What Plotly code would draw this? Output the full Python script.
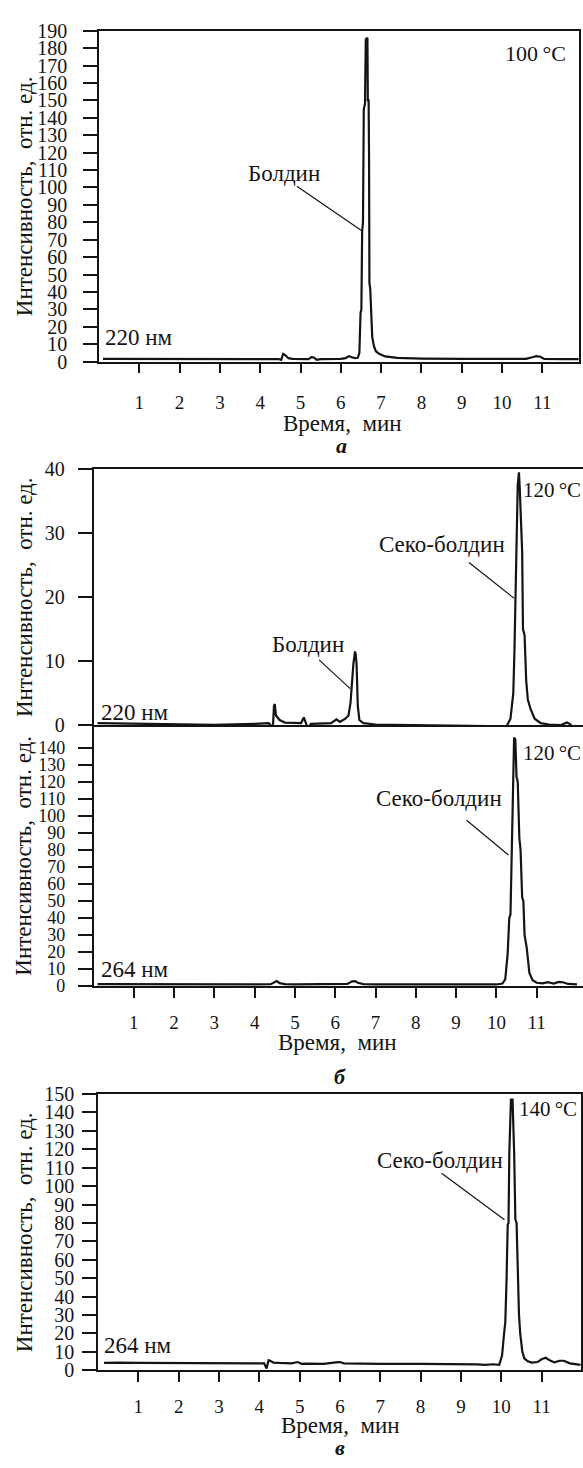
import plotly.graph_objects as go

W, H = 583, 1468

# ---------------- data ----------------
# Panel a: 100 °C, 220 nm
time_a = [0.1, 1.0, 2.0, 3.0, 4.0, 4.45, 4.52, 4.57, 4.62, 4.7, 4.8, 5.0, 5.2, 5.27, 5.33, 5.4, 5.5,
          6.0, 6.12, 6.2, 6.27, 6.35, 6.42, 6.46, 6.49, 6.51, 6.53, 6.55, 6.57, 6.6, 6.62, 6.66, 6.67,
          6.69, 6.7, 6.71, 6.73, 6.75, 6.78, 6.82, 6.87, 6.95, 7.1, 7.4, 8.0, 9.0, 10.0, 10.6, 10.75,
          10.85, 10.95, 11.05, 11.5, 11.9]
int_a = [1.6, 1.6, 1.5, 1.6, 1.5, 1.5, 1.0, 4.5, 3.8, 2.0, 1.6, 1.5, 1.5, 2.6, 2.4, 1.0, 1.5,
         1.6, 2.0, 3.2, 2.8, 2.0, 2.2, 5.0, 28.0, 30.0, 75.0, 80.0, 145.0, 148.0, 185.0, 186.0, 150.0,
         150.0, 120.0, 45.0, 42.0, 25.0, 14.0, 9.0, 6.0, 4.5, 3.0, 2.2, 1.8, 1.6, 1.6, 1.6, 2.5,
         3.2, 2.8, 1.6, 1.5, 1.5]

# Panel б (upper): 120 °C, 220 nm
time_b1 = [0.1, 1.0, 2.0, 3.0, 4.0, 4.35, 4.42, 4.45, 4.48, 4.5, 4.53, 4.56, 4.62, 4.75, 5.0, 5.15,
           5.22, 5.27, 5.32, 5.4, 5.6, 5.9, 6.03, 6.12, 6.25, 6.33, 6.38, 6.42, 6.45, 6.49, 6.51, 6.53,
           6.56, 6.6, 6.7, 7.0, 8.0, 9.0, 10.0, 10.25, 10.35, 10.42, 10.45, 10.48, 10.5, 10.53, 10.56,
           10.58, 10.6, 10.64, 10.66, 10.7, 10.74, 10.78, 10.85, 10.95, 11.1, 11.3, 11.6, 11.75,
           11.82, 11.9, 12.0]
int_b1 = [0.3, 0.2, 0.1, 0.05, 0.2, 0.3, -0.2, -0.8, 3.0, 3.3, 1.5, 1.2, 0.8, 0.4, 0.3, 0.3,
          1.2, 0.2, -0.5, 0.2, 0.2, 0.3, 0.9, 0.5, 1.0, 1.5, 3.5, 8.0, 9.5, 11.5, 11.0, 9.5,
          3.0, 0.8, 0.3, 0.1, 0.0, 0.0, -0.1, -0.2, 1.0, 5.0, 12.0, 19.5, 28.0, 37.5, 39.5,
          37.0, 33.0, 27.0, 15.0, 14.0, 7.0, 4.0, 2.5, 1.0, 0.3, 0.1, 0.0, 0.4,
          0.2, -0.3, -0.5]

# Panel б (lower): 120 °C, 264 nm
time_b2 = [0.1, 1.0, 2.0, 3.0, 4.0, 4.4, 4.5, 4.55, 4.62, 4.75, 5.0, 6.0, 6.3, 6.42, 6.49, 6.56, 6.7,
           7.0, 8.0, 9.0, 10.0, 10.15, 10.22, 10.28, 10.32, 10.35, 10.38, 10.41, 10.44, 10.47, 10.5,
           10.53, 10.57, 10.6, 10.64, 10.67, 10.7, 10.75, 10.82, 10.9, 11.0, 11.15, 11.28, 11.42,
           11.55, 11.65, 11.78, 12.0]
int_b2 = [1.2, 1.1, 1.1, 1.0, 1.1, 1.2, 2.5, 3.0, 1.8, 1.2, 1.1, 1.1, 1.3, 2.8, 3.0, 2.0, 1.2,
          1.0, 1.0, 1.0, 1.0, 1.5, 4.0, 19.0, 40.0, 42.0, 71.0, 110.0, 146.0, 145.0, 123.0,
          120.0, 87.0, 80.0, 52.0, 50.0, 30.0, 23.0, 7.7, 3.5, 2.0, 1.6, 2.4, 1.5,
          2.5, 2.3, 1.3, 1.0]

# Panel в: 140 °C, 264 nm
time_c = [0.15, 0.5, 1.0, 2.0, 3.0, 4.0, 4.12, 4.18, 4.23, 4.28, 4.35, 4.5, 4.8, 4.95, 5.05, 5.15,
          5.3, 5.6, 5.9, 6.0, 6.1, 6.5, 7.0, 8.0, 9.0, 9.4, 9.6, 9.8, 9.95, 10.02, 10.07, 10.1, 10.13,
          10.16, 10.18, 10.2, 10.24, 10.28, 10.32, 10.35, 10.38, 10.41, 10.44, 10.47, 10.52, 10.57,
          10.65, 10.75, 10.9, 11.0, 11.1, 11.2, 11.32, 11.45, 11.55, 11.7, 11.85, 11.97]
int_c = [4.0, 4.2, 4.0, 4.0, 4.0, 4.0, 3.8, 1.0, 5.5, 5.0, 4.2, 4.0, 3.8, 4.5, 3.5, 3.6,
         3.5, 3.5, 4.3, 4.5, 3.8, 3.6, 3.5, 3.5, 3.5, 3.2, 3.0, 3.3, 3.0, 8.0, 20.0, 26.0, 48.0,
         79.0, 80.0, 118.0, 147.0, 147.0, 118.0, 82.0, 80.0, 52.0, 30.0, 20.0, 10.5, 6.5,
         5.0, 4.2, 4.5, 6.0, 6.8, 5.5, 4.3, 5.2, 5.2, 3.8, 3.2, 3.0]

x_ticks = [1, 2, 3, 4, 5, 6, 7, 8, 9, 10, 11]
y_ticks_a = list(range(0, 191, 10))
y_ticks_b1 = [0, 10, 20, 30, 40]
y_ticks_b2 = list(range(0, 141, 10))
y_ticks_c = list(range(0, 151, 10))

y_title = "Интенсивность,\u00a0 отн. ед."
x_title = "Время,\u00a0 мин"
panel_letters = ["а", "б", "в"]

# labels: (text, x, y, axis-suffix, anchor, size)
labels = [
    ("Болдин", 4.59, 108, "", "center", 23),
    ("100\u2009°C", 10.84, 177, "", "center", 22),
    ("220 нм", 1.0, 13.6, "", "center", 23),
    ("Болдин", 5.32, 12.6, "2", "center", 23),
    ("Секо-болдин", 8.66, 28.2, "2", "center", 23),
    ("120\u2009°C", 10.6, 36.8, "2", "left", 21),
    ("220 нм", 1.02, 1.9, "2", "center", 23),
    ("Секо-болдин", 8.57, 110, "3", "center", 23),
    ("120\u2009°C", 10.62, 137, "3", "left", 21),
    ("264 нм", 1.03, 9.8, "3", "center", 23),
    ("Секо-болдин", 8.47, 113.9, "4", "center", 23),
    ("140\u2009°C", 10.4, 141.7, "4", "left", 21),
    ("264 нм", 1.0, 13.4, "4", "center", 23),
]
# leader lines: (x0, y0, x1, y1, axis-suffix)
leaders = [
    (4.91, 100.7, 6.52, 75.2, ""),
    (5.6, 10.2, 6.37, 5.7, "2"),
    (9.32, 25.4, 10.44, 19.8, "2"),
    (9.26, 97.4, 10.3, 77.0, "3"),
    (8.52, 107.0, 10.08, 81.8, "4"),
]

# ---------------- layout helpers (pixel geometry) ----------------
def px_x(p):
    return p / W

def px_y(p):
    return 1 - p / H

FONT = "Liberation Serif, Times New Roman, serif"
BLACK = "#141414"

fig = go.Figure()
line_style = dict(color=BLACK, width=2.2)
fig.add_trace(go.Scatter(x=time_a, y=int_a, mode="lines", line=line_style, xaxis="x", yaxis="y"))
fig.add_trace(go.Scatter(x=time_b1, y=int_b1, mode="lines", line=line_style, xaxis="x2", yaxis="y2"))
fig.add_trace(go.Scatter(x=time_b2, y=int_b2, mode="lines", line=line_style, xaxis="x3", yaxis="y3"))
fig.add_trace(go.Scatter(x=time_c, y=int_c, mode="lines", line=line_style, xaxis="x4", yaxis="y4"))

def xax(domain, rng, anchor, show_ticks=True, mirror=False, standoff=7):
    d = dict(domain=domain, range=rng, anchor=anchor, showgrid=False, zeroline=False,
             showline=True, linecolor=BLACK, linewidth=1.5, mirror=mirror,
             fixedrange=True)
    if show_ticks:
        d.update(tickmode="array", tickvals=x_ticks, ticktext=[str(v) for v in x_ticks],
                 ticks="outside", ticklen=10, tickwidth=1.5, tickcolor=BLACK,
                 tickfont=dict(family=FONT, size=19, color=BLACK),
                 ticklabelstandoff=standoff)
    else:
        d.update(showticklabels=False, ticks="")
    return d

def yax(domain, rng, anchor, vals, mirror=False, standoff=10, size=20):
    return dict(domain=domain, range=rng, anchor=anchor, showgrid=False, zeroline=False,
                showline=True, linecolor=BLACK, linewidth=1.5, mirror=mirror,
                tickmode="array", tickvals=vals, ticktext=[str(v) for v in vals],
                ticks="outside", ticklen=14, tickwidth=1.5, tickcolor=BLACK,
                tickfont=dict(family=FONT, size=size, color=BLACK),
                ticklabelstandoff=standoff, fixedrange=True)

# panel a
xa_dom = [px_x(99), px_x(579)]
ya_dom = [px_y(356), px_y(20)]
# panel б
xb_dom = [px_x(93.5), 1.0]
yb1_dom = [px_y(725), px_y(465)]
yb2_dom = [px_y(990), px_y(725)]
# panel в
xc_dom = [px_x(98), px_x(580.7)]
yc_dom = [px_y(1380), px_y(1099.5)]

fig.update_layout(
    width=W, height=H,
    margin=dict(l=0, r=0, t=0, b=0),
    paper_bgcolor="white", plot_bgcolor="white",
    showlegend=False,
    font=dict(family=FONT, color=BLACK),
    xaxis=xax(xa_dom, [0, 11.91], "y", mirror=True, standoff=13),
    yaxis=yax(ya_dom, [0, 190], "x", y_ticks_a, mirror=True, standoff=12),
    xaxis2=xax(xb_dom, [0, 12.15], "y2", show_ticks=False, mirror=True),
    yaxis2=yax(yb1_dom, [0, 40], "x2", y_ticks_b1, standoff=9),
    xaxis3=xax(xb_dom, [0, 12.15], "y3", standoff=8),
    yaxis3=yax(yb2_dom, [0, 153.3], "x3", y_ticks_b2, standoff=9, size=18),
    xaxis4=xax(xc_dom, [0, 11.97], "y4", mirror=True, standoff=8),
    yaxis4=yax(yc_dom, [0, 150], "x4", y_ticks_c, mirror=True, standoff=4),
)

annots = []
for text, x, y, ax, anchor, size in labels:
    annots.append(dict(text=text, x=x, y=y, xref="x" + ax, yref="y" + ax,
                       xanchor=anchor, yanchor="middle", showarrow=False,
                       font=dict(family=FONT, size=size, color=BLACK)))

# axis titles and panel letters (paper coordinates)
for yc in [(20 + 356) / 2, (465 + 725) / 2, (725 + 990) / 2, (1099.5 + 1380) / 2]:
    annots.append(dict(text=y_title, x=px_x(24), y=px_y(yc), xref="paper", yref="paper",
                       xanchor="center", yanchor="middle", textangle=-90, showarrow=False,
                       font=dict(family=FONT, size=23, color=BLACK)))
for xc, yc in [(342, 419), (337, 1047), (340, 1436)]:
    annots.append(dict(text=x_title, x=px_x(xc), y=px_y(yc), xref="paper", yref="paper",
                       xanchor="center", yanchor="middle", showarrow=False,
                       font=dict(family=FONT, size=23, color=BLACK)))
for letter, xc, yc in zip(panel_letters, [341, 340, 340], [441, 1082, 1458]):
    annots.append(dict(text="<i><b>" + letter + "</b></i>", x=px_x(xc), y=px_y(yc),
                       xref="paper", yref="paper", xanchor="center", yanchor="middle",
                       showarrow=False, font=dict(family=FONT, size=22, color=BLACK)))
fig.update_layout(annotations=annots)

shapes = []
for x0, y0, x1, y1, ax in leaders:
    shapes.append(dict(type="line", x0=x0, y0=y0, x1=x1, y1=y1, xref="x" + ax, yref="y" + ax,
                       line=dict(color=BLACK, width=1.2)))
fig.update_layout(shapes=shapes)

fig.write_html("out.html", config={"displayModeBar": False},
               post_script="document.body.style.margin='0';document.body.style.padding='0';")
